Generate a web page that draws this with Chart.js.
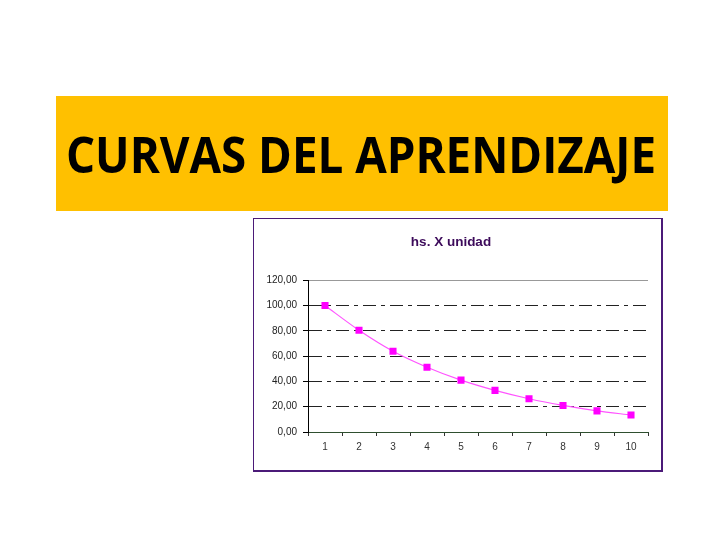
<!DOCTYPE html>
<html>
<head>
<meta charset="utf-8">
<script src="https://cdn.jsdelivr.net/npm/chart.js@4"></script>
<style>
  html, body { margin: 0; padding: 0; background: #fff; }
  body { width: 720px; height: 540px; position: relative; overflow: hidden; }
  .banner {
    position: absolute; left: 56px; top: 96px; width: 612px; height: 115px;
    background: #ffc000;
  }
  .banner span {
    position: absolute; left: 10px; top: 27px;
    font-family: "Open Sans", sans-serif; font-weight: 700; font-size: 51px;
    line-height: 60px; color: #000; white-space: nowrap;
    transform-origin: 0 0;
  }
  .chart-box {
    position: absolute; left: 253px; top: 218px; width: 407px; height: 251px;
    border: 1px solid #4b1a78; border-right-width: 2px; border-bottom-width: 2px;
    background: #fff;
  }
</style>
</head>
<body>
<div class="banner"><span id="bigTitle">CURVAS DEL APRENDIZAJE</span></div>
<div class="chart-box"><canvas id="curva" width="407" height="251"></canvas></div>
<script>
// datos
const unidades = ['1', '2', '3', '4', '5', '6', '7', '8', '9', '10'];
const horasPorUnidad = [100, 80.4, 63.8, 51.2, 41, 32.9, 26.3, 21, 16.7, 13.4];
const yMin = 0, yMax = 120, yStep = 20;
const tituloGrafico = 'hs. X unidad';

// ajusta el título grande al ancho del recuadro
const big = document.getElementById('bigTitle');
const w = big.getBoundingClientRect().width;
big.style.transform = 'scaleX(' + (590 / w) + ')';

const dashDot = [13, 5, 4, 5];
const fuente = 'Liberation Sans, Arial, sans-serif';

new Chart(document.getElementById('curva').getContext('2d'), {
  type: 'line',
  data: {
    labels: unidades,
    datasets: [{
      data: horasPorUnidad,
      borderColor: '#ff55ff',
      borderWidth: 1.2,
      tension: 0.3,
      pointStyle: 'rect',
      pointRadius: 5,
      pointBackgroundColor: '#ff00ff',
      pointBorderColor: '#ff00ff',
      pointBorderWidth: 0
    }]
  },
  options: {
    responsive: false,
    animation: false,
    layout: { padding: { top: 0, right: 13, bottom: 0, left: 0 } },
    plugins: {
      legend: { display: false },
      tooltip: { enabled: false },
      title: {
        display: true,
        text: tituloGrafico,
        color: '#3c0a5a',
        font: { family: fuente, size: 13.5, weight: 'bold', lineHeight: 1.2 },
        padding: { top: 15, bottom: 30 }
      }
    },
    scales: {
      x: {
        offset: true,
        grid: {
          offset: true,
          color: (c) => (c.index === unidades.length ? '#999999' : 'rgba(0,0,0,0)'),
          tickColor: '#333333',
          tickLength: 4,
          lineWidth: 1
        },
        border: { display: true, color: '#2f4f2f', width: 1 },
        ticks: {
          color: '#333',
          padding: 5,
          maxRotation: 0,
          font: { family: fuente, size: 10 }
        },
        afterFit: (s) => { s.height = 38; }
      },
      y: {
        min: yMin,
        max: yMax,
        grid: {
          color: (c) => {
            if (!c.tick) return '#000';
            if (c.tick.value === yMax) return '#999999';
            if (c.tick.value === yMin) return 'rgba(0,0,0,0)';
            return '#222222';
          },
          tickColor: '#000',
          tickLength: 5,
          lineWidth: 1
        },
        border: {
          display: true,
          color: '#000',
          width: 1,
          dash: (c) => (c.tick && c.tick.value > yMin && c.tick.value < yMax ? dashDot : [])
        },
        ticks: {
          stepSize: yStep,
          color: '#222',
          padding: 6,
          font: { family: fuente, size: 10 },
          callback: (v) => v.toFixed(2).replace('.', ',')
        },
        afterFit: (s) => { s.width = 54; }
      }
    }
  }
});
</script>
</body>
</html>
